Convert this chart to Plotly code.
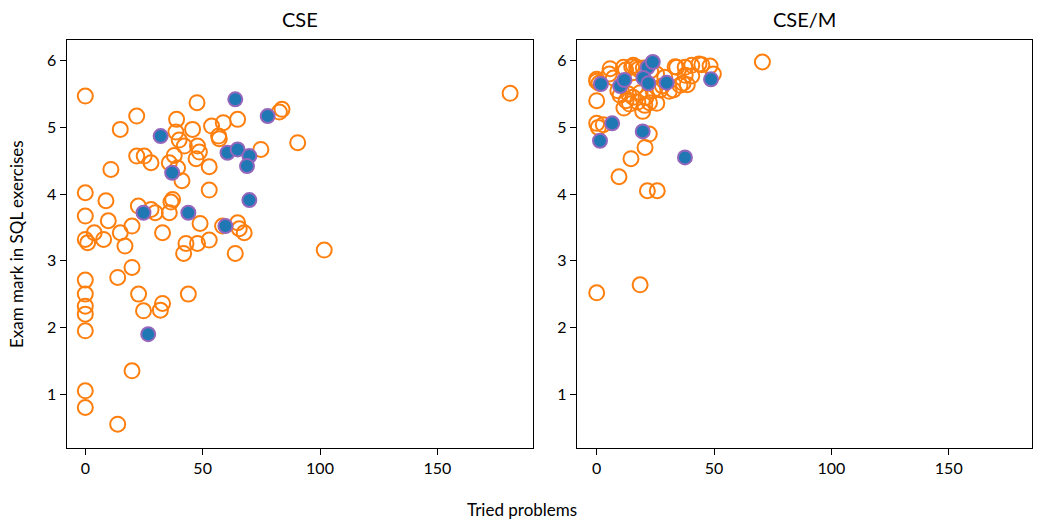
import plotly.graph_objects as go

# ---- data: CSE panel ----
cse_all_x = [0, 47.6, 21.9, 38.9, 64.9, 83.8, 82.7, 14.9, 38.6, 45.7, 53.8, 58.8, 56.8, 57.1,
             40, 42.2, 47.8, 48.6, 47.2, 37.9, 35.8, 21.9, 25.1, 28, 10.9, 39.3, 52.8, 41.2,
             74.8, 90.5, 0, 8.8, 52.8, 37.2, 36.5, 0, 9.8, 22.6, 28, 29.8, 35.8, 48.9, 58.5,
             64.9, 65.6, 67.7, 0, 1, 3.8, 7.8, 14.9, 19.9, 16.9, 32.9, 42.9, 41.9, 47.8, 52.8,
             63.9, 101.8, 0, 0, 0, 0, 0, 13.8, 19.9, 22.7, 24.8, 32.9, 32, 43.9, 19.9, 0, 0,
             13.8, 181]
cse_all_y = [5.47, 5.37, 5.17, 5.12, 5.12, 5.27, 5.23, 4.97, 4.93, 4.97, 5.02, 5.07, 4.87, 4.83,
             4.81, 4.72, 4.72, 4.63, 4.53, 4.58, 4.47, 4.57, 4.57, 4.47, 4.37, 4.39, 4.41, 4.20,
             4.67, 4.77, 4.02, 3.90, 4.06, 3.92, 3.88, 3.67, 3.60, 3.82, 3.77, 3.72, 3.72, 3.56, 3.52,
             3.57, 3.48, 3.42, 3.32, 3.27, 3.42, 3.32, 3.42, 3.52, 3.22, 3.42, 3.26, 3.11, 3.26, 3.31,
             3.11, 3.16, 2.71, 2.50, 2.32, 2.20, 1.95, 2.75, 2.90, 2.50, 2.25, 2.36, 2.26, 2.50, 1.35, 1.05, 0.80,
             0.55, 5.51]
cse_sel_x = [63.9, 77.7, 32.1, 60.6, 64.9, 69.9, 68.9, 37.0, 69.9, 24.8, 43.9, 59.7, 26.8]
cse_sel_y = [5.42, 5.17, 4.87, 4.62, 4.67, 4.57, 4.42, 4.32, 3.91, 3.72, 3.72, 3.52, 1.90]

# ---- data: CSE/M panel ----
csem_all_x = [0, 0, 1, 0, 0, 0.7, 2.8, 0, 18.5, 21.6, 25.8, 9.5, 14.6, 20.6, 22.4,
              5.7, 5.4, 7.1, 11.4, 12.3, 14.9, 15.6, 17, 17.7, 19.9, 23, 25.5,
              9, 10, 11.6, 12.5, 13.5, 14, 15.5, 16.5, 17.5, 18.5, 19.6, 20.5, 21, 22.5, 24,
              25.6, 27, 28, 29, 30.9, 32.7,
              33.4, 34.1, 35.5, 36.8, 37.7, 37.7, 38.6, 40.5, 40.5, 43.6, 44.8, 48.3, 49.7, 70.6]
csem_all_y = [5.72, 5.69, 5.66, 5.40, 5.06, 5.00, 5.04, 2.52, 2.64, 4.05, 4.05, 4.26, 4.53, 4.70, 4.90,
              5.88, 5.80, 5.74, 5.90, 5.86, 5.91, 5.93, 5.90, 5.87, 5.89, 5.85, 5.80,
              5.55, 5.48, 5.29, 5.40, 5.50, 5.35, 5.45, 5.60, 5.38, 5.52, 5.24, 5.33, 5.45, 5.37, 5.55,
              5.36, 5.56, 5.62, 5.75, 5.54, 5.56,
              5.91, 5.90, 5.63, 5.66, 5.90, 5.78, 5.64, 5.93, 5.77, 5.95, 5.94, 5.92, 5.80, 5.98]
csem_sel_x = [1.8, 10, 11.8, 21.7, 23.9, 19.9, 22, 29.8, 48.7, 6.6, 1.4, 19.6, 37.6]
csem_sel_y = [5.65, 5.62, 5.71, 5.90, 5.98, 5.74, 5.66, 5.67, 5.72, 5.06, 4.80, 4.94, 4.55]

x_ticks = [0, 50, 100, 150]
y_ticks = [1, 2, 3, 4, 5, 6]
panel_titles = ["CSE", "CSE/M"]

ORANGE = "#ff7f0e"
BLUE = "#1f77b4"
PURPLE = "#9467bd"
FONT = "Lato"

W, H = 1044, 526
fig = go.Figure()

def add_panel(ax, ax_all_x, ax_all_y, sel_x, sel_y):
    xa = "x" if ax == 1 else "x2"
    ya = "y" if ax == 1 else "y2"
    fig.add_trace(go.Scatter(x=ax_all_x, y=ax_all_y, mode="markers", xaxis=xa, yaxis=ya,
                             marker=dict(symbol="circle-open", size=15, color=ORANGE,
                                         line=dict(width=2, color=ORANGE)),
                             showlegend=False, hoverinfo="x+y"))
    fig.add_trace(go.Scatter(x=sel_x, y=sel_y, mode="markers", xaxis=xa, yaxis=ya,
                             marker=dict(symbol="circle", size=14, color=BLUE,
                                         line=dict(width=2, color=PURPLE)),
                             showlegend=False, hoverinfo="x+y"))

add_panel(1, cse_all_x, cse_all_y, cse_sel_x, cse_sel_y)
add_panel(2, csem_all_x, csem_all_y, csem_sel_x, csem_sel_y)

left1, right1 = 66.7, 533.0
left2, right2 = 577.0, 1032.0
top, bottom = 40.0, 448.0
ppu_x = 2.347
x0_1, x0_2 = 85.3, 596.7

axis_common = dict(showgrid=False, zeroline=False, showline=True, linecolor="black",
                   linewidth=1.3, mirror=True, ticks="outside", ticklen=6, tickwidth=1.3,
                   tickcolor="black", tickfont=dict(family=FONT, size=16, color="black"))

def ann(text, px, py, size, angle=0):
    return dict(text=text, x=px / W, y=1 - py / H, xref="paper", yref="paper",
                xanchor="center", yanchor="middle", showarrow=False, textangle=angle,
                font=dict(family=FONT, size=size, color="black"))

fig.update_layout(
    width=W, height=H, margin=dict(l=0, r=0, t=0, b=0),
    paper_bgcolor="white", plot_bgcolor="white",
    xaxis=dict(domain=[left1 / W, right1 / W],
               range=[(left1 - x0_1) / ppu_x, (right1 - x0_1) / ppu_x],
               tickvals=x_ticks, anchor="y", **axis_common),
    xaxis2=dict(domain=[left2 / W, right2 / W],
                range=[(left2 - x0_2) / ppu_x, (right2 - x0_2) / ppu_x],
                tickvals=x_ticks, anchor="y2", **axis_common),
    yaxis=dict(domain=[1 - bottom / H, 1 - top / H], range=[0.193, 6.31],
               tickvals=y_ticks, anchor="x", **axis_common),
    yaxis2=dict(domain=[1 - bottom / H, 1 - top / H], range=[0.193, 6.31],
                tickvals=y_ticks, anchor="x2", **axis_common),
    annotations=[
        ann(panel_titles[0], (left1 + right1) / 2, 19, 20),
        ann(panel_titles[1], (left2 + right2) / 2, 19, 20),
        ann("Tried problems", 522, 509, 17),
        ann("Exam mark in SQL exercises", 17, 244, 17, angle=-90),
    ],
)

fig.write_html("out.html", config={"displayModeBar": False},
               post_script="document.body.style.margin='0';")
